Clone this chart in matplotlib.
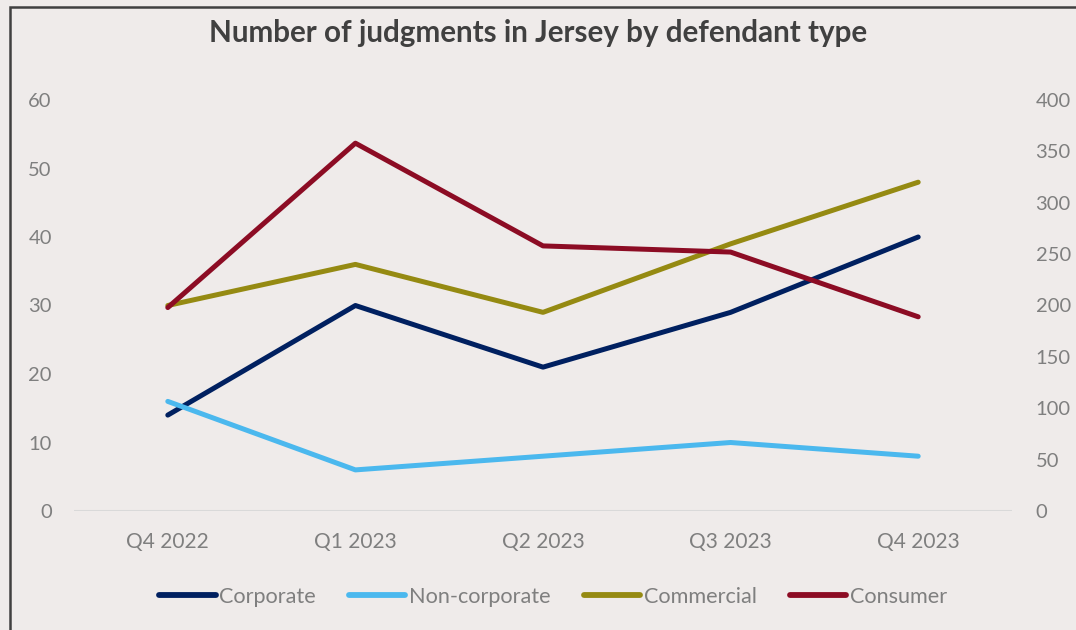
import matplotlib
matplotlib.use("Agg")
import matplotlib.pyplot as plt
from matplotlib.patches import Rectangle

categories = ["Q4 2022", "Q1 2023", "Q2 2023", "Q3 2023", "Q4 2023"]
corporate = [14, 30, 21, 29, 40]
non_corporate = [16, 6, 8, 10, 8]
commercial = [30, 36, 29, 39, 48]
consumer = [198, 358, 258, 252, 189]  # right axis

left_ticks = [0, 10, 20, 30, 40, 50, 60]
right_ticks = [0, 50, 100, 150, 200, 250, 300, 350, 400]

plt.rcParams['font.family'] = ['Lato', 'DejaVu Sans']

bg = "#EFEBEA"
tick_color = "#7F7F7F"
fig = plt.figure(figsize=(10.76, 6.3), dpi=100, facecolor=bg)

# outer frame (top and left visible)
fig.patches.append(Rectangle((10/1076, -0.2), 1.5, 1 - 7/630 + 0.2, transform=fig.transFigure,
                             fill=False, edgecolor="#404040", linewidth=1.8))

ax = fig.add_axes([74/1076, 1 - 511/630, (1012 - 74)/1076, (511 - 100)/630])
ax.set_facecolor(bg)
ax2 = ax.twinx()

x = list(range(len(categories)))
lw = 3.6
l1, = ax.plot(x, corporate, color="#002060", lw=lw, solid_capstyle="round", label="Corporate", zorder=3)
l2, = ax.plot(x, non_corporate, color="#4BB8EE", lw=lw, solid_capstyle="round", label="Non-corporate", zorder=3)
l3, = ax.plot(x, commercial, color="#958A12", lw=lw, solid_capstyle="round", label="Commercial", zorder=3)
l4, = ax2.plot(x, consumer, color="#8C0C24", lw=lw, solid_capstyle="round", label="Consumer", zorder=3)

ax.set_xlim(-0.5, len(categories) - 0.5)
ax.set_ylim(0, 60)
ax2.set_ylim(0, 400)
ax.set_yticks(left_ticks)
ax2.set_yticks(right_ticks)
ax.set_xticks(x)
ax.set_xticklabels(categories)

for a in (ax, ax2):
    for s in a.spines.values():
        s.set_visible(False)
    a.tick_params(length=0, labelsize=14.5, labelcolor=tick_color)
ax.tick_params(axis='y', pad=16)
ax2.tick_params(axis='y', pad=17)
ax.tick_params(axis='x', labelsize=15, pad=15)

ax.axhline(0, color="#D9D9D9", lw=1.5, zorder=1)

fig.text(0.5, 1 - 33/630, "Number of judgments in Jersey by defendant type",
         ha="center", va="center", fontsize=21.3, fontweight="bold", color="#404040")

leg = fig.legend(handles=[l1, l2, l3, l4], loc="center", bbox_to_anchor=(553/1076, 1 - 597/630),
                 ncol=4, frameon=False, fontsize=15.6, handlelength=2.6, handletextpad=0.15,
                 columnspacing=1.55, labelcolor=tick_color)
for h in leg.get_lines():
    h.set_linewidth(4.2)

fig.savefig("out.png", dpi=100, facecolor=bg)
